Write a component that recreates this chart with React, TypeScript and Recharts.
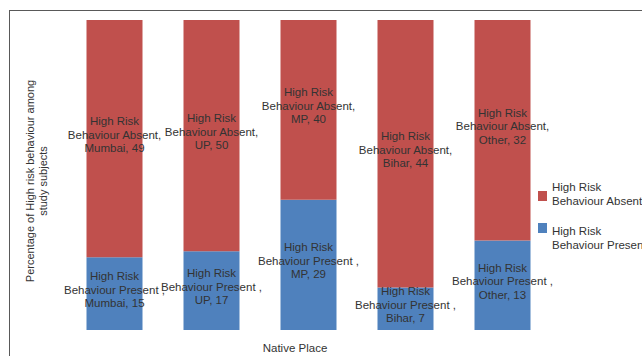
import { Bar, BarChart, LabelList, XAxis, YAxis } from 'recharts'

const PLACES = ['Mumbai', 'UP', 'MP', 'Bihar', 'Other']
const PRESENT = [15, 17, 29, 7, 13]
const ABSENT = [49, 50, 40, 44, 32]

const SERIES_PRESENT = 'High Risk Behaviour Present'
const SERIES_ABSENT = 'High Risk Behaviour Absent'

const RED = '#C0504D'
const BLUE = '#4F81BD'
const FONT = '"Liberation Sans", Arial, sans-serif'
const TEXT = '#333333'

const chartData = PLACES.map((place, i) => ({
  place,
  present: PRESENT[i],
  absent: ABSENT[i],
}))

function segmentLabel(kind: 'present' | 'absent') {
  return (props: any) => {
    const { x, y, width, height, index } = props
    const cx = Number(x) + Number(width) / 2
    const cy = Number(y) + Number(height) / 2 - 4
    const values = kind === 'present' ? PRESENT : ABSENT
    const lines = [
      'High Risk',
      kind === 'present' ? 'Behaviour Present ,' : 'Behaviour Absent,',
      `${PLACES[index]}, ${values[index]}`,
    ]
    return (
      <g>
        {lines.map((line, i) => (
          <text
            key={i}
            x={cx}
            y={cy + (i - 1) * 13.5}
            textAnchor="middle"
            dominantBaseline="central"
            fontSize={11.5}
            fontFamily={FONT}
            fill={TEXT}
          >
            {line}
          </text>
        ))}
      </g>
    )
  }
}

function YTitle(props: any) {
  const { viewBox } = props
  const cy = viewBox.y + viewBox.height / 2 + 6
  return (
    <g fontSize={11} fontFamily={FONT} fill={TEXT}>
      <text x={30} y={cy} textAnchor="middle" dominantBaseline="central" transform={`rotate(-90, 30, ${cy})`}>
        Percentage of High risk behaviour among
      </text>
      <text x={43} y={cy} textAnchor="middle" dominantBaseline="central" transform={`rotate(-90, 43, ${cy})`}>
        study subjects
      </text>
    </g>
  )
}

function XTitle() {
  return (
    <text x={295} y={348} textAnchor="middle" dominantBaseline="central" fontSize={11.5} fontFamily={FONT} fill={TEXT}>
      Native Place
    </text>
  )
}

function LegendBox() {
  const items = [
    { name: SERIES_ABSENT, color: RED, square: 11, text: 0 },
    { name: SERIES_PRESENT, color: BLUE, square: 43, text: 44 },
  ]
  return (
    <div
      style={{
        position: 'absolute',
        left: 538,
        top: 180,
        width: 104,
        height: 80,
        fontFamily: FONT,
        fontSize: 11.5,
        color: TEXT,
      }}
    >
      {items.map((item) => (
        <div key={item.name}>
          <div style={{ position: 'absolute', left: 0, top: item.square, width: 9, height: 10, background: item.color }} />
          <div style={{ position: 'absolute', left: 14, top: item.text, lineHeight: '14px', whiteSpace: 'nowrap' }}>
            High Risk
            <br />
            {item.name.replace('High Risk ', '')}
          </div>
        </div>
      ))}
    </div>
  )
}

export default function App() {
  return (
    <div style={{ position: 'fixed', left: 0, top: 0, width: 642, height: 356, overflow: 'hidden', background: '#fff' }}>
      <div
        style={{
          position: 'absolute',
          left: 9,
          top: 10,
          width: 700,
          height: 400,
          borderTop: '1px solid #595959',
          borderLeft: '1px solid #595959',
        }}
      />
      <div style={{ position: 'absolute', left: 0, top: 0 }}>
        <BarChart
          width={642}
          height={356}
          data={chartData}
          stackOffset="expand"
          margin={{ top: 20, right: 91.5, bottom: 0, left: 0 }}
          barSize={56}
        >
          <XAxis dataKey="place" tick={false} axisLine={false} tickLine={false} height={26} label={<XTitle />} />
          <YAxis tick={false} axisLine={false} tickLine={false} width={65.5} label={<YTitle />} />
          <Bar dataKey="present" name={SERIES_PRESENT} stackId="a" fill={BLUE} isAnimationActive={false}>
            <LabelList dataKey="present" content={segmentLabel('present')} />
          </Bar>
          <Bar dataKey="absent" name={SERIES_ABSENT} stackId="a" fill={RED} isAnimationActive={false}>
            <LabelList dataKey="absent" content={segmentLabel('absent')} />
          </Bar>
        </BarChart>
      </div>
      <LegendBox />
    </div>
  )
}
